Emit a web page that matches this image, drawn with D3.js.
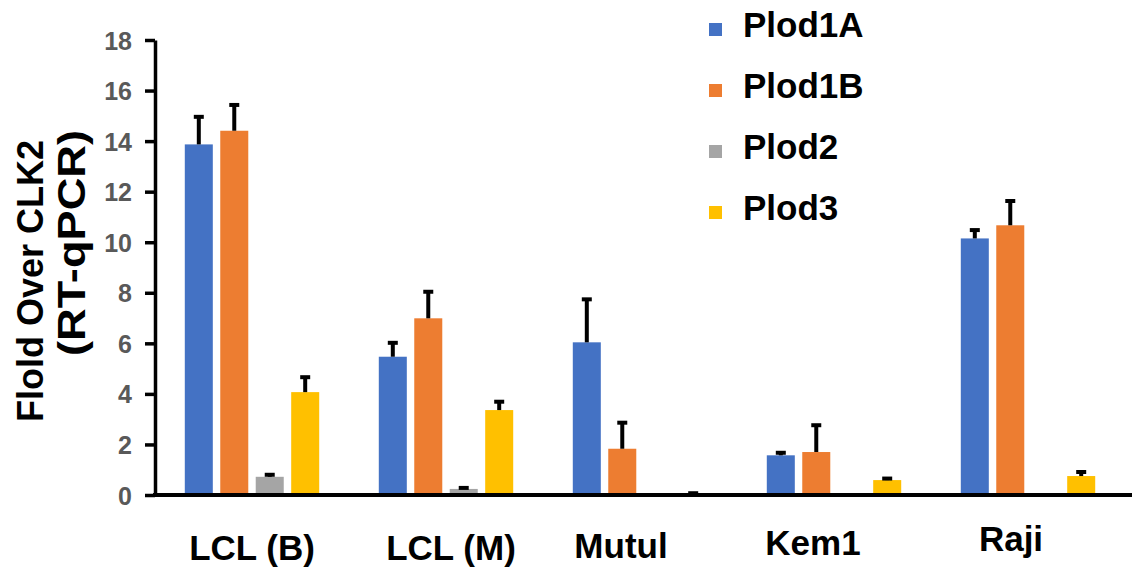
<!DOCTYPE html>
<html>
<head>
<meta charset="utf-8">
<script src="https://cdn.jsdelivr.net/npm/d3@7"></script>
<style>
  body { margin: 0; background: #fff; }
  svg text { font-family: Arial, "Liberation Sans", sans-serif; font-weight: bold; }
  .y-axis text { fill: #595959; font-size: 25px; }
  .y-axis path, .y-axis line { stroke: #000; stroke-width: 3.5px; }
</style>
</head>
<body>
<div id="chart"></div>
<script>
////////////////////////////////////////////////////////////
/////////////////////// Data ///////////////////////////////
////////////////////////////////////////////////////////////

var cellLines = ["LCL (B)", "LCL (M)", "Mutul", "Kem1", "Raji"];
var genes = ["Plod1A", "Plod1B", "Plod2", "Plod3"];
var geneColors = ["#4472C4", "#ED7D31", "#A5A5A5", "#FFC000"];

// fold values per gene, one entry per cell line
var plod1A = [13.87, 5.47, 6.04, 1.57, 10.15];
var plod1B = [14.41, 6.99, 1.83, 1.70, 10.67];
var plod2  = [0.72, 0.24, 0.02, 0.02, 0.02];
var plod3  = [4.07, 3.36, 0.03, 0.59, 0.75];

// upper error (SD) per gene
var err1A = [1.13, 0.59, 1.74, 0.14, 0.37];
var err1B = [1.06, 1.09, 1.07, 1.10, 1.00];
var err2  = [0.12, 0.08, 0.00, 0.00, 0.00];
var err3  = [0.63, 0.37, 0.08, 0.10, 0.20];

var yTicks = [0, 2, 4, 6, 8, 10, 12, 14, 16, 18];

var values = [plod1A, plod1B, plod2, plod3];
var errors = [err1A, err1B, err2, err3];

////////////////////////////////////////////////////////////
/////////////////////// Set-up /////////////////////////////
////////////////////////////////////////////////////////////

var width = 1134, height = 569;

var svg = d3.select("#chart").append("svg")
	.attr("width", width)
	.attr("height", height);

var x0 = d3.scaleBand()
	.domain(cellLines)
	.range([155, 1125]);

var x1 = d3.scaleBand()
	.domain(genes)
	.range([0, x0.bandwidth()])
	.paddingInner(0.21)
	.paddingOuter(0.84);

var y = d3.scaleLinear()
	.domain([0, 18])
	.range([495, 40]);

var color = d3.scaleOrdinal().domain(genes).range(geneColors);

////////////////////////////////////////////////////////////
/////////////////////// Bars ///////////////////////////////
////////////////////////////////////////////////////////////

var rows = cellLines.map(function(c, i) {
	return genes.map(function(g, j) {
		return { line: c, gene: g, value: values[j][i], err: errors[j][i] };
	});
});

var groups = svg.selectAll(".group")
	.data(rows)
	.enter().append("g")
	.attr("class", "group")
	.attr("transform", function(d, i) { return "translate(" + x0(cellLines[i]) + ",0)"; });

groups.selectAll(".bar")
	.data(function(d) { return d; })
	.enter().append("rect")
	.attr("class", "bar")
	.attr("x", function(d) { return x1(d.gene); })
	.attr("width", x1.bandwidth())
	.attr("y", function(d) { return y(d.value); })
	.attr("height", function(d) { return y(0) - y(d.value); })
	.style("fill", function(d) { return color(d.gene); });

//Error bars, plus direction only
var errG = groups.selectAll(".err")
	.data(function(d) { return d.filter(function(e) { return e.err > 0; }); })
	.enter().append("g")
	.attr("class", "err")
	.attr("transform", function(d) { return "translate(" + (x1(d.gene) + x1.bandwidth() / 2) + ",0)"; });

errG.append("line")
	.attr("y1", function(d) { return y(d.value); })
	.attr("y2", function(d) { return y(d.value + d.err); })
	.style("stroke", "#000")
	.style("stroke-width", 4);

errG.append("line")
	.attr("x1", -5)
	.attr("x2", 5)
	.attr("y1", function(d) { return y(d.value + d.err) + 1; })
	.attr("y2", function(d) { return y(d.value + d.err) + 1; })
	.style("stroke", "#000")
	.style("stroke-width", 4);

////////////////////////////////////////////////////////////
/////////////////////// Axes ///////////////////////////////
////////////////////////////////////////////////////////////

svg.append("g")
	.attr("class", "y-axis")
	.attr("transform", "translate(155,0)")
	.call(d3.axisLeft(y).tickValues(yTicks).tickSize(10).tickPadding(13).tickSizeOuter(0))
	.call(function(g) { g.selectAll(".tick text").attr("dy", "0.36em"); });

//Baseline
svg.append("line")
	.attr("x1", 153)
	.attr("x2", 1132)
	.attr("y1", y(0))
	.attr("y2", y(0))
	.style("stroke", "#000")
	.style("stroke-width", 4);

//Category labels, text boxes sit a little off the group centres
var labelNudge = [0, 5, -19, -21, -17];
var labelDrop = [3, 3, 1, -2, -6];

svg.selectAll(".cat-label")
	.data(cellLines)
	.enter().append("text")
	.attr("class", "cat-label")
	.attr("x", function(d, i) { return x0(d) + x0.bandwidth() / 2 + labelNudge[i]; })
	.attr("y", function(d, i) { return 557 + labelDrop[i]; })
	.attr("text-anchor", "middle")
	.style("font-size", "35px")
	.style("fill", "#000")
	.text(function(d) { return d; });

//Y axis title
svg.append("text")
	.attr("transform", "translate(43,140)rotate(-90)")
	.attr("text-anchor", "end")
	.style("font-size", "36px")
	.text("Flold Over CLK2");

svg.append("text")
	.attr("transform", "translate(85,130)rotate(-90)")
	.attr("text-anchor", "end")
	.attr("textLength", 226)
	.attr("lengthAdjust", "spacingAndGlyphs")
	.style("font-size", "38px")
	.text("(RT-qPCR)");

////////////////////////////////////////////////////////////
/////////////////////// Legend /////////////////////////////
////////////////////////////////////////////////////////////

var legend = svg.selectAll(".legend-item")
	.data(genes)
	.enter().append("g")
	.attr("class", "legend-item")
	.attr("transform", function(d, i) { return "translate(709," + (37 + i * 61) + ")"; });

legend.append("rect")
	.attr("y", -14)
	.attr("width", 13)
	.attr("height", 13)
	.style("fill", function(d) { return color(d); });

legend.append("text")
	.attr("x", 34)
	.style("font-size", "35px")
	.text(function(d) { return d; });

</script>
</body>
</html>
